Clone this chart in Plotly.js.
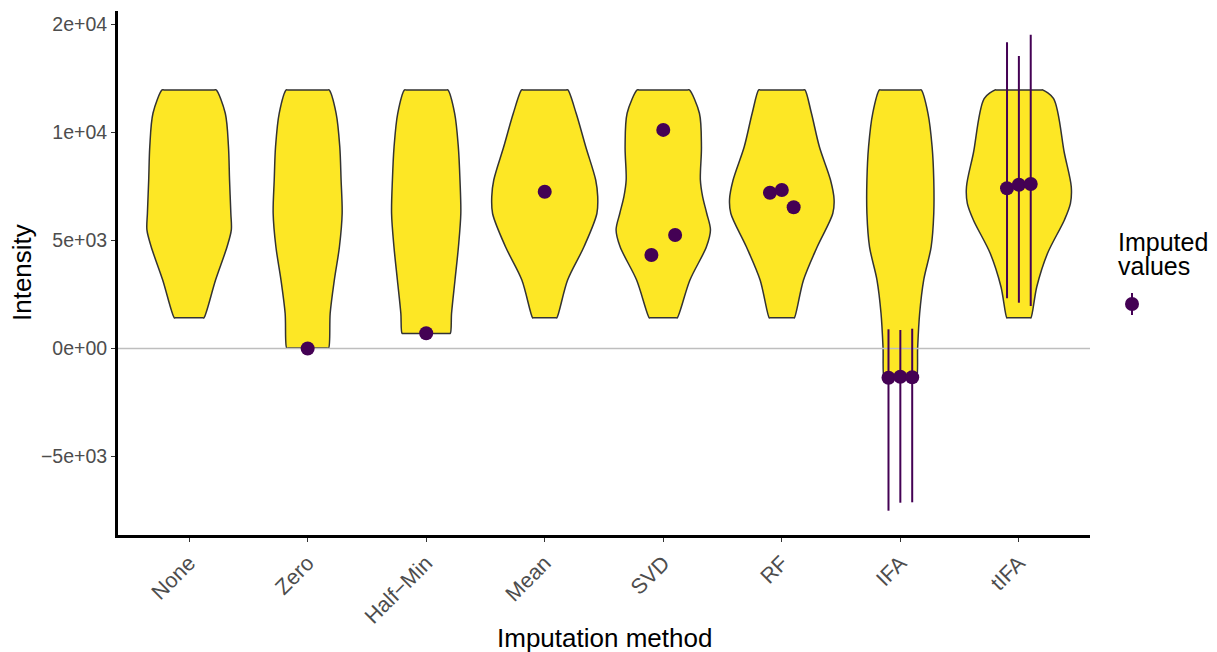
<!DOCTYPE html>
<html>
<head>
<meta charset="utf-8">
<script src="https://cdn.plot.ly/plotly-3.0.1.min.js"></script>
<style>html,body{margin:0;padding:0;background:#fff}#plot{width:1217px;height:652px}</style>
</head>
<body>
<div id="plot"></div>
<script>
// ---- categories ----
const methods = ["None", "Zero", "Half\u2212Min", "Mean", "SVD", "RF", "IFA", "tIFA"];

// ---- violin outlines: intensity levels (top -> bottom) and half-widths ----
const noneY = [11970, 10890, 9340, 7800, 6250, 5490, 4710, 3170, 1420];
const noneW = [0.228, 0.305, 0.332, 0.341, 0.352, 0.356, 0.320, 0.223, 0.125];
const zeroY = [11970, 10890, 9340, 7800, 6250, 4710, 3170, 1630, 20];
const zeroW = [0.180, 0.240, 0.271, 0.282, 0.291, 0.268, 0.225, 0.190, 0.177];
const halfMinY = [11970, 10890, 9340, 7800, 6250, 4710, 3170, 1630, 700];
const halfMinW = [0.182, 0.240, 0.271, 0.285, 0.292, 0.272, 0.243, 0.214, 0.203];
const meanY = [11970, 10890, 9340, 7800, 7030, 6250, 4710, 3170, 1420];
const meanW = [0.195, 0.265, 0.346, 0.430, 0.447, 0.440, 0.331, 0.193, 0.102];
const svdY = [11970, 10890, 9340, 7800, 7030, 6250, 5490, 4710, 3170, 1420];
const svdW = [0.220, 0.305, 0.322, 0.313, 0.332, 0.367, 0.398, 0.364, 0.225, 0.118];
const rfY = [11970, 10890, 9340, 7800, 6900, 6250, 4710, 3170, 1420];
const rfW = [0.195, 0.250, 0.317, 0.411, 0.441, 0.430, 0.299, 0.183, 0.106];
const ifaY = [11970, 10890, 9340, 7800, 6250, 4710, 3170, 1630, 40, -1340];
const ifaW = [0.176, 0.233, 0.268, 0.282, 0.282, 0.260, 0.197, 0.163, 0.146, 0.138];
const tifaY = [11970, 11570, 9040, 7490, 6720, 5950, 4410, 2860, 1420];
const tifaW = [0.201, 0.293, 0.384, 0.442, 0.435, 0.384, 0.242, 0.151, 0.102];

// ---- imputed values (dodged order, left -> right) ----
const imputedNone = [];
const imputedZero = [0];
const imputedHalfMin = [704];
const imputedMean = [7260];
const imputedSVD = [4330, 10120, 5255];
const imputedRF = [7213, 7338, 6537];
const imputedIFA = [-1352, -1306, -1333];
const imputedTIFA = [7417, 7583, 7616];
// interval ends (only IFA and tIFA carry intervals)
const ifaUpper = [889, 856, 917];
const ifaLower = [-7509, -7139, -7120];
const tifaUpper = [14176, 13542, 14528];
const tifaLower = [2324, 2120, 1968];

// ---- axis ticks ----
const yTickVals = [-5000, 0, 5000, 10000, 15000];
const yTickText = ["\u22125e+03", "0e+00", "5e+03", "1e+04", "2e+04"];

// ---------------------------------------------------------------
const violinYs = [noneY, zeroY, halfMinY, meanY, svdY, rfY, ifaY, tifaY];
const violinWs = [noneW, zeroW, halfMinW, meanW, svdW, rfW, ifaW, tifaW];
const imputedSets = [imputedNone, imputedZero, imputedHalfMin, imputedMean, imputedSVD, imputedRF, imputedIFA, imputedTIFA];
const upperSets = [null, null, null, null, null, null, ifaUpper, tifaUpper];
const lowerSets = [null, null, null, null, null, null, ifaLower, tifaLower];

const YELLOW = "#FDE725", PURPLE = "#440154";
const traces = [];

violinYs.forEach(function (ys, idx) {
  const c = idx + 1, ws = violinWs[idx], n = ys.length;
  const xs = [], yy = [];
  const top = ys[0], bot = ys[n - 1];
  xs.push(c); yy.push(top);
  xs.push(c + 0.93 * ws[0]); yy.push(top);
  for (let k = 0; k < n; k++) { xs.push(c + ws[k]); yy.push(ys[k]); }
  xs.push(c + 0.93 * ws[n - 1]); yy.push(bot);
  xs.push(c); yy.push(bot);
  xs.push(c - 0.93 * ws[n - 1]); yy.push(bot);
  for (let k = n - 1; k >= 0; k--) { xs.push(c - ws[k]); yy.push(ys[k]); }
  xs.push(c - 0.93 * ws[0]); yy.push(top);
  xs.push(c); yy.push(top);
  traces.push({
    type: "scatter", mode: "lines", x: xs, y: yy,
    fill: "toself", fillcolor: YELLOW,
    line: { color: "#333333", width: 1.5, shape: "spline", smoothing: 0.9 },
    hoverinfo: "skip", showlegend: false
  });
});

// horizontal reference line at zero
traces.push({
  type: "scatter", mode: "lines", x: [0.4, 8.6], y: [0, 0],
  line: { color: "#BEBEBE", width: 1.5 }, hoverinfo: "skip", showlegend: false
});

// imputed points with intervals
const px = [], py = [], eUp = [], eDn = [];
imputedSets.forEach(function (vals, idx) {
  const c = idx + 1, m = vals.length;
  vals.forEach(function (v, j) {
    const off = m > 1 ? (j - (m - 1) / 2) * 0.1 : 0;
    px.push(c + off); py.push(v);
    const up = upperSets[idx], dn = lowerSets[idx];
    eUp.push(up ? up[j] - v : 0);
    eDn.push(dn ? v - dn[j] : 0);
  });
});
traces.push({
  type: "scatter", mode: "markers", x: px, y: py,
  marker: { size: 14, color: PURPLE },
  error_y: { type: "data", symmetric: false, array: eUp, arrayminus: eDn, width: 0, thickness: 2, color: PURPLE },
  showlegend: false, name: "Imputed values"
});

const FONT = "Liberation Sans, Arial, Helvetica, sans-serif";
const plotL = 118, plotR = 1090, plotT = 11, plotB = 535;
const pw = plotR - plotL, ph = plotB - plotT;
function xp(p) { return (p - plotL) / pw; }
function yp(p) { return (plotB - p) / ph; }

const layout = {
  width: 1217, height: 652,
  margin: { l: plotL, r: 1217 - plotR, t: plotT, b: 652 - plotB, pad: 0 },
  paper_bgcolor: "#ffffff", plot_bgcolor: "#ffffff",
  font: { family: FONT, color: "#000" },
  showlegend: false,
  xaxis: {
    range: [0.4, 8.6], tickmode: "array", tickvals: [1, 2, 3, 4, 5, 6, 7, 8], ticktext: methods,
    tickangle: -45, showgrid: false, zeroline: false,
    showline: true, linecolor: "#000", linewidth: 3,
    ticks: "outside", ticklen: 4, tickcolor: "#333333", tickwidth: 1,
    tickfont: { family: FONT, size: 21.5, color: "#4D4D4D" }
  },
  yaxis: {
    range: [-8634, 15625], tickmode: "array", tickvals: yTickVals, ticktext: yTickText,
    showgrid: false, zeroline: false,
    showline: true, linecolor: "#000", linewidth: 3,
    ticks: "outside", ticklen: 4, tickcolor: "#333333", tickwidth: 1,
    tickfont: { family: FONT, size: 19.5, color: "#4D4D4D" }
  },
  annotations: [
    { text: "Imputation method", xref: "paper", yref: "paper", x: 0.5, y: 0, xanchor: "center", yanchor: "middle",
      yshift: -103, showarrow: false, font: { family: FONT, size: 26, color: "#000" } },
    { text: "Intensity", xref: "paper", yref: "paper", x: 0, y: 0.5, xanchor: "center", yanchor: "middle",
      xshift: -96, textangle: -90, showarrow: false, font: { family: FONT, size: 26, color: "#000" } },
    { text: "Imputed", xref: "paper", yref: "paper", x: xp(1116), y: yp(242), xanchor: "left", yanchor: "middle",
      showarrow: false, font: { family: FONT, size: 25, color: "#000" } },
    { text: "values", xref: "paper", yref: "paper", x: xp(1116), y: yp(266), xanchor: "left", yanchor: "middle",
      showarrow: false, font: { family: FONT, size: 25, color: "#000" } }
  ],
  shapes: [
    { type: "line", xref: "paper", yref: "paper", x0: xp(1132), x1: xp(1132), y0: yp(315), y1: yp(293),
      line: { color: PURPLE, width: 2 } },
    { type: "circle", xref: "paper", yref: "paper", x0: xp(1125), x1: xp(1139), y0: yp(311), y1: yp(297),
      fillcolor: PURPLE, line: { color: PURPLE, width: 0 } }
  ]
};

Plotly.newPlot("plot", traces, layout, { displayModeBar: false, staticPlot: true });
</script>
</body>
</html>
